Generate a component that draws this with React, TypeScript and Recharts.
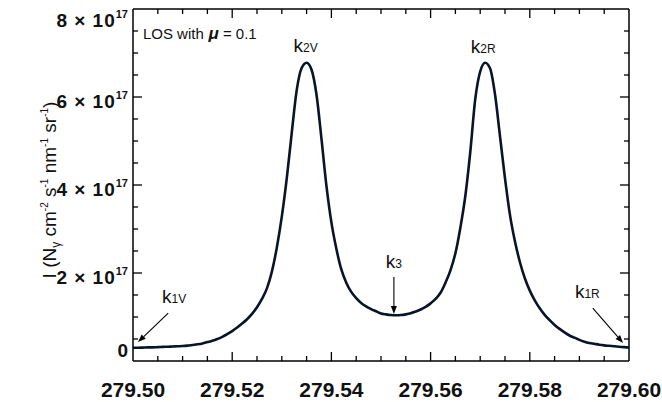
import { ComposedChart, Line, Scatter, XAxis, YAxis, ReferenceLine, ReferenceDot } from 'recharts';

// Emergent intensity profile on a 0.001 nm wavelength grid
const WAVELENGTH = [
  279.5, 279.501, 279.502, 279.503, 279.504, 279.505, 279.506, 279.507, 279.508, 279.509,
  279.51, 279.511, 279.512, 279.513, 279.514, 279.515, 279.516, 279.517, 279.518, 279.519,
  279.52, 279.521, 279.522, 279.523, 279.524, 279.525, 279.526, 279.527, 279.528, 279.529,
  279.53, 279.531, 279.532, 279.533, 279.534, 279.535, 279.536, 279.537, 279.538, 279.539,
  279.54, 279.541, 279.542, 279.543, 279.544, 279.545, 279.546, 279.547, 279.548, 279.549,
  279.55, 279.551, 279.552, 279.553, 279.554, 279.555, 279.556, 279.557, 279.558, 279.559,
  279.56, 279.561, 279.562, 279.563, 279.564, 279.565, 279.566, 279.567, 279.568, 279.569,
  279.57, 279.571, 279.572, 279.573, 279.574, 279.575, 279.576, 279.577, 279.578, 279.579,
  279.58, 279.581, 279.582, 279.583, 279.584, 279.585, 279.586, 279.587, 279.588, 279.589,
  279.59, 279.591, 279.592, 279.593, 279.594, 279.595, 279.596, 279.597, 279.598, 279.599,
  279.6,
];
// intensity in units of 1e17
const INTENSITY = [
  0.3, 0.3, 0.305, 0.31, 0.31, 0.315, 0.32, 0.325, 0.33, 0.335,
  0.34, 0.35, 0.365, 0.38, 0.4, 0.43, 0.46, 0.5, 0.55, 0.61,
  0.68, 0.76, 0.85, 0.95, 1.07, 1.22, 1.41, 1.65, 2.03, 2.58,
  3.28, 4.15, 5.18, 6.15, 6.66, 6.78, 6.62, 6.05, 5.05, 3.98,
  3.15, 2.55, 2.08, 1.78, 1.57, 1.43, 1.32, 1.24, 1.18, 1.13,
  1.08, 1.06, 1.045, 1.04, 1.045, 1.06, 1.085, 1.125, 1.17, 1.23,
  1.31, 1.41, 1.55, 1.78, 2.06, 2.45, 3.03, 3.75, 4.75, 5.95,
  6.58, 6.78, 6.65, 6.05, 5.1, 4.15, 3.32, 2.72, 2.25, 1.88,
  1.6, 1.38, 1.2, 1.05, 0.93, 0.82, 0.73, 0.65, 0.58, 0.53,
  0.48, 0.44, 0.41, 0.39, 0.37, 0.355, 0.345, 0.335, 0.325, 0.315,
  0.305,
];

// minor ticks every 0.005 nm / 0.5e17; the frame corners are left to the axis lines
const X_MINOR = [
  279.505, 279.51, 279.515, 279.52, 279.525, 279.53, 279.535, 279.54, 279.545,
  279.55, 279.555, 279.56, 279.565, 279.57, 279.575, 279.58, 279.585, 279.59, 279.595,
];
const X_LABELS = ['279.50', '279.52', '279.54', '279.56', '279.58', '279.60'];
const Y_MINOR = [0.5, 1, 1.5, 2, 2.5, 3, 3.5, 4, 4.5, 5, 5.5, 6, 6.5, 7, 7.5];
const Y_LABELS = [0, 2, 4, 6, 8];

const X_MIN = 279.5;
const X_MAX = 279.6;
const Y_MIN = 0;
const Y_MAX = 8;

const data = WAVELENGTH.map((wl, i) => ({ wl, I: INTENSITY[i] }));

// tick anchor points on each side of the frame
const bottomPts = X_MINOR.map((wl) => ({ wl, I: Y_MIN }));
const topPts = X_MINOR.map((wl) => ({ wl, I: Y_MAX }));
const leftPts = Y_MINOR.map((I) => ({ wl: X_MIN, I }));
const rightPts = Y_MINOR.map((I) => ({ wl: X_MAX, I }));

const FONT = 'Liberation Sans, Arial, Helvetica, sans-serif';
const INK = '#000';

const isMajorX = (v: number) => Math.round((v - 279.5) * 1000) % 20 === 0;
const isMajorY = (v: number) => Math.round(v * 10) % 20 === 0;

// inward tick mark drawn as a thin filled bar; (dx, dy) points into the frame
const tickMark = (dx: number, dy: number, major: (p: any) => boolean) => (p: any) => {
  const len = major(p.payload) ? 9 : 5;
  const w = 1.3;
  const x = dx === 0 ? p.cx - w / 2 : dx > 0 ? p.cx : p.cx - len;
  const y = dy === 0 ? p.cy - w / 2 : dy > 0 ? p.cy : p.cy - len;
  return <rect x={x} y={y} width={dx === 0 ? w : len} height={dy === 0 ? w : len} fill={INK} />;
};

const bottomTick = tickMark(0, -1, (d) => isMajorX(d.wl));
const topTick = tickMark(0, 1, (d) => isMajorX(d.wl));
const leftTick = tickMark(1, 0, (d) => isMajorY(d.I));
const rightTick = tickMark(-1, 0, (d) => isMajorY(d.I));

const XLabel = ({ x, y, payload }: any) => {
  const idx = Math.round((payload.value - 279.5) * 50);
  return (
    <text x={x} y={y + 36} textAnchor="middle" fontFamily={FONT} fontSize={21} fontWeight="bold" fill="#111">
      {X_LABELS[idx]}
    </text>
  );
};

const YLabel = ({ x, y, payload }: any) => {
  const v = payload.value;
  const ty = Math.min(Math.max(y + 11, 27), 357);
  return (
    <text x={x - 5} y={ty} textAnchor="end" fontFamily={FONT} fontSize={19} fontWeight="bold" fill="#111">
      {v === 0 ? (
        '0'
      ) : (
        <>
          <tspan letterSpacing={1}>{`${v} × 10`}</tspan>
          <tspan fontSize={11} dy={-9}>17</tspan>
        </>
      )}
    </text>
  );
};

const YTitle = () => {
  const cx = 56;
  const cy = 190;
  return (
    <text
      x={cx}
      y={cy}
      transform={`rotate(-90, ${cx}, ${cy})`}
      textAnchor="middle"
      fontFamily={FONT}
      fontSize={19}
      fill="#111"
    >
      <tspan>I (N</tspan>
      <tspan fontSize={12} dy={4}>γ</tspan>
      <tspan dy={-4}> cm</tspan>
      <tspan fontSize={10} dy={-8}>-2</tspan>
      <tspan dy={8}> s</tspan>
      <tspan fontSize={10} dy={-8}>-1</tspan>
      <tspan dy={8}> nm</tspan>
      <tspan fontSize={10} dy={-8}>-1</tspan>
      <tspan dy={8}> sr</tspan>
      <tspan fontSize={10} dy={-8}>-1</tspan>
      <tspan dy={8}>)</tspan>
    </text>
  );
};

// line segment with a filled head at the second point
const Arrow = ({ x1, y1, x2, y2 }: any) => {
  const a = Math.atan2(y2 - y1, x2 - x1);
  const len = 8;
  const w = 3;
  const bx = x2 - len * Math.cos(a);
  const by = y2 - len * Math.sin(a);
  const px = -Math.sin(a) * w;
  const py = Math.cos(a) * w;
  return (
    <g>
      <line x1={x1} y1={y1} x2={bx} y2={by} stroke={INK} strokeWidth={1.1} />
      <polygon points={`${x2},${y2} ${bx + px},${by + py} ${bx - px},${by - py}`} fill={INK} />
    </g>
  );
};

// k-feature label: a lower-case k followed by a small index on the same baseline
const kLabel = (index: string) => (p: any) => (
  <text x={p.cx} y={p.cy} textAnchor="middle" fontFamily={FONT} fill="#111">
    <tspan fontSize={19}>k</tspan>
    <tspan fontSize={12}>{index}</tspan>
  </text>
);

const losLabel = (p: any) => (
  <text x={p.cx} y={p.cy} fontFamily={FONT} fontSize={15} fill="#111">
    <tspan>LOS with</tspan>
    <tspan fontSize={17} fontWeight="bold" fontStyle="italic"> μ</tspan>
    <tspan> = 0.1</tspan>
  </text>
);

const App = () => {
  return (
    <div style={{ position: 'fixed', left: 0, top: 0, width: 662, height: 402, background: '#fff' }}>
      <ComposedChart width={662} height={402} data={data} margin={{ top: 0, right: 0, bottom: 0, left: 0 }}>
        <XAxis
          dataKey="wl"
          type="number"
          domain={[X_MIN, X_MAX]}
          ticks={X_LABELS.map(Number)}
          interval={0}
          height={41}
          tickSize={0}
          tickMargin={0}
          tickLine={false}
          tick={<XLabel />}
          axisLine={{ stroke: INK, strokeWidth: 1.5 }}
          allowDataOverflow
        />
        <XAxis
          xAxisId="top"
          orientation="top"
          dataKey="wl"
          type="number"
          domain={[X_MIN, X_MAX]}
          height={9}
          tick={false}
          tickLine={false}
          axisLine={{ stroke: INK, strokeWidth: 1.5 }}
          allowDataOverflow
        />
        <YAxis
          type="number"
          domain={[Y_MIN, Y_MAX]}
          ticks={Y_LABELS}
          interval={0}
          width={133}
          tickSize={0}
          tickMargin={0}
          tickLine={false}
          tick={<YLabel />}
          axisLine={{ stroke: INK, strokeWidth: 1.5 }}
          label={{ content: () => <YTitle /> }}
          allowDataOverflow
        />
        <YAxis
          yAxisId="right"
          orientation="right"
          type="number"
          domain={[Y_MIN, Y_MAX]}
          width={33}
          tick={false}
          tickLine={false}
          axisLine={{ stroke: INK, strokeWidth: 1.5 }}
          allowDataOverflow
        />

        <Line
          dataKey="I"
          type="monotone"
          stroke="#0a1428"
          strokeWidth={2.6}
          dot={false}
          isAnimationActive={false}
        />

        <Scatter data={bottomPts} dataKey="I" shape={bottomTick} isAnimationActive={false} />
        <Scatter data={topPts} dataKey="I" shape={topTick} isAnimationActive={false} />
        <Scatter data={leftPts} dataKey="I" shape={leftTick} isAnimationActive={false} />
        <Scatter data={rightPts} dataKey="I" shape={rightTick} isAnimationActive={false} />

        <ReferenceLine segment={[{ x: 279.5526, y: 1.91 }, { x: 279.5526, y: 1.07 }]} shape={Arrow} />
        <ReferenceLine segment={[{ x: 279.5071, y: 1.09 }, { x: 279.501, y: 0.43 }]} shape={Arrow} />
        <ReferenceLine segment={[{ x: 279.5927, y: 1.2 }, { x: 279.5988, y: 0.41 }]} shape={Arrow} />

        <ReferenceDot x={279.502} y={7.32} r={0} shape={losLabel} />
        <ReferenceDot x={279.5348} y={7.03} r={0} shape={kLabel('2V')} />
        <ReferenceDot x={279.5706} y={7.0} r={0} shape={kLabel('2R')} />
        <ReferenceDot x={279.5526} y={2.11} r={0} shape={kLabel('3')} />
        <ReferenceDot x={279.5083} y={1.32} r={0} shape={kLabel('1V')} />
        <ReferenceDot x={279.5916} y={1.43} r={0} shape={kLabel('1R')} />
      </ComposedChart>
    </div>
  );
};

export default App;
